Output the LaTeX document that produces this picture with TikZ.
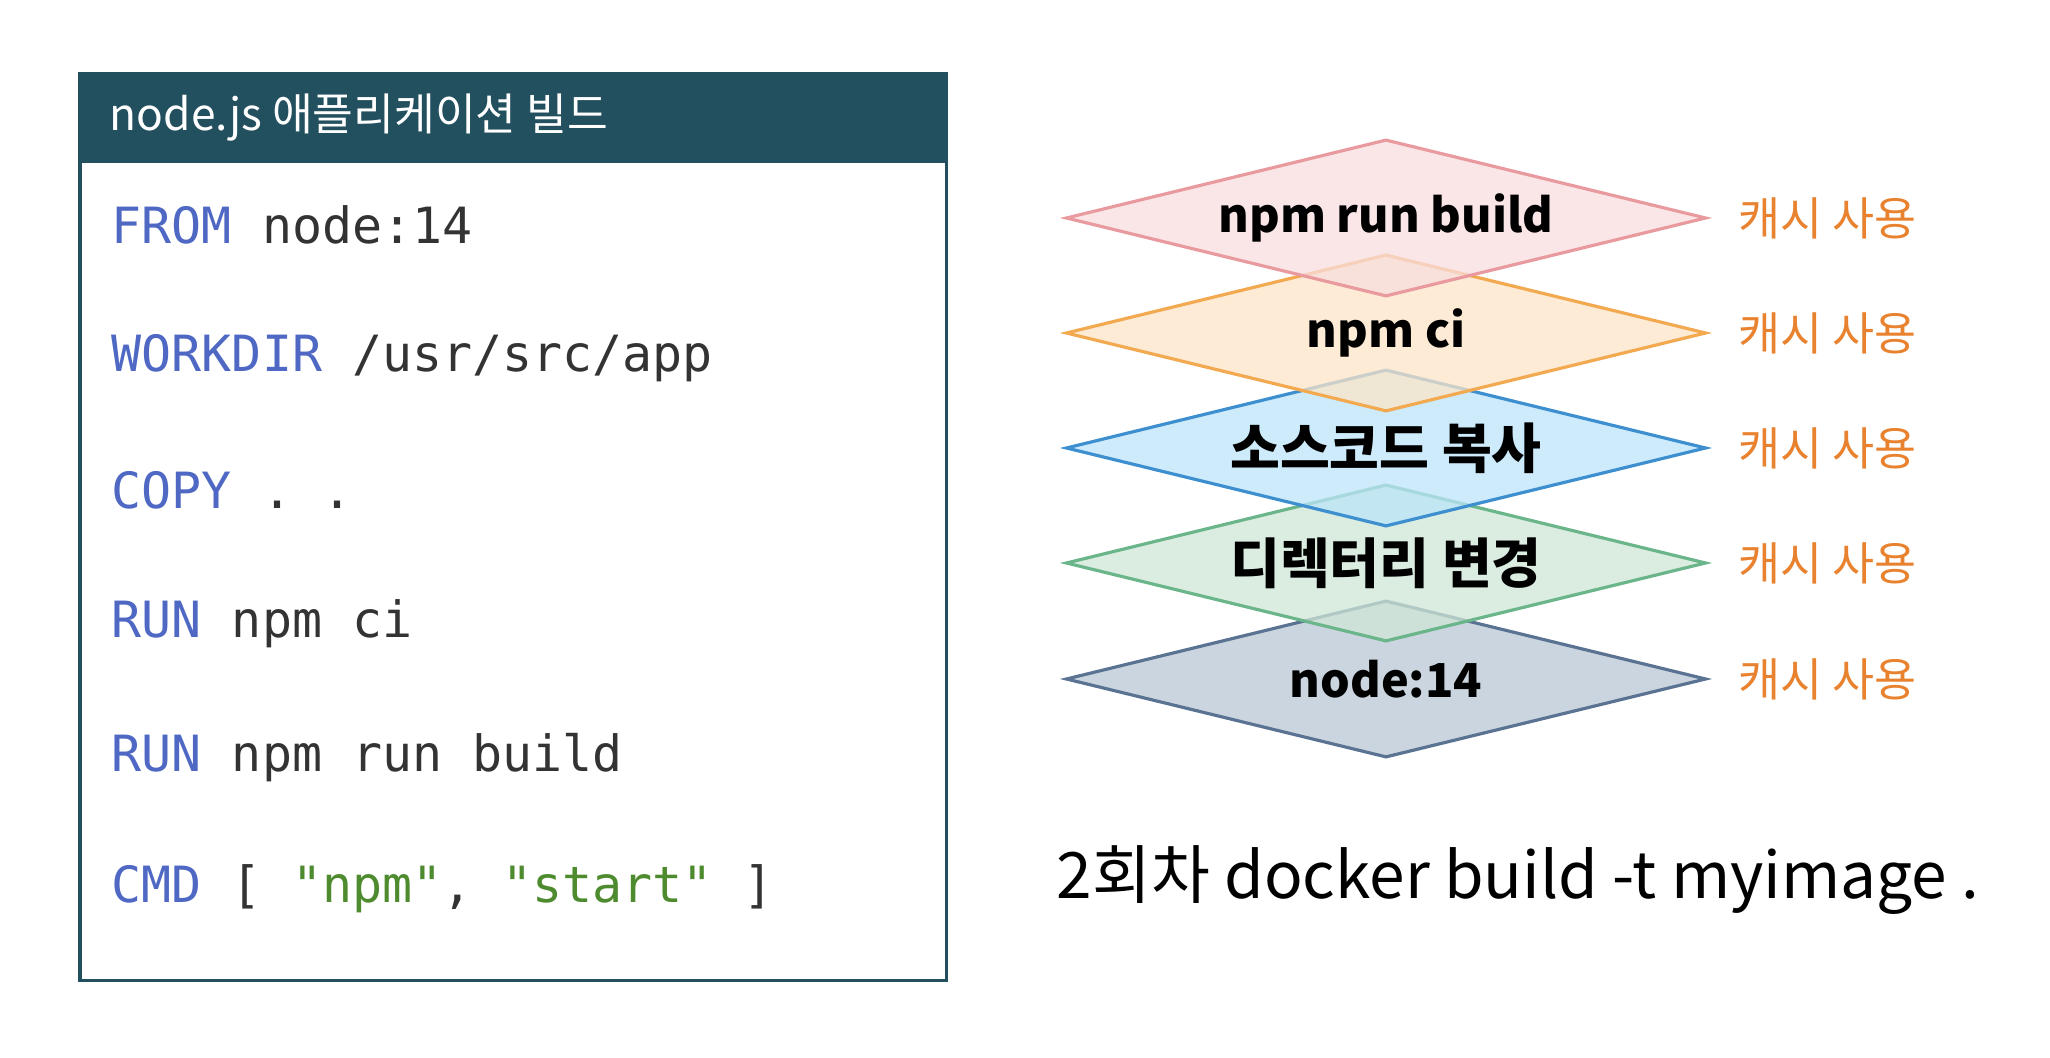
\documentclass[tikz,border=0pt]{standalone}
\usepackage{fontspec}
\setmainfont{Noto Sans CJK KR}
\setmonofont{DejaVu Sans Mono}
\usepackage{xcolor}
\usetikzlibrary{shapes.geometric,positioning}

\definecolor{headteal}{HTML}{22505F}
\definecolor{kwblue}{HTML}{4F68C3}
\definecolor{strgreen}{HTML}{4E8B2F}
\definecolor{codegray}{HTML}{333333}
\definecolor{hitorange}{HTML}{E8822F}
\definecolor{pinkline}{HTML}{E99A9E}
\definecolor{pinkfill}{RGB}{248,222,222}
\definecolor{orangeline}{HTML}{F2A950}
\definecolor{orangefill}{RGB}{252,228,199}
\definecolor{blueline}{HTML}{3D8FCF}
\definecolor{bluefill}{RGB}{188,228,250}
\definecolor{greenline}{HTML}{6BB58A}
\definecolor{greenfill}{RGB}{207,230,214}
\definecolor{slateline}{HTML}{5B7392}
\definecolor{slatefill}{RGB}{186,199,212}

\begin{document}
\begin{tikzpicture}[x=0.01cm, y=-0.01cm,
    codeline/.style={anchor=west, inner sep=0pt, text=codegray,
        font=\ttfamily\fontsize{14.2}{17}\selectfont},
    layer/.style 2 args={diamond, draw=#1, fill=#2, fill opacity=0.75,
        text opacity=1, line width=0.9pt, inner sep=0pt, aspect=4.08,
        minimum width=6.4cm, minimum height=1.57cm,
        font=\bfseries\fontsize{13.3}{16}\selectfont},
    hangul/.style={font=\bfseries\fontsize{15.4}{18}\selectfont},
    cache/.style={anchor=west, inner sep=0pt, text=hitorange,
        font=\fontsize{13}{15}\selectfont}]
\useasboundingbox (0,0) rectangle (2050,1058);

% Dockerfile panel
\node[draw=headteal, line width=1pt, anchor=north west, inner sep=0pt,
      minimum width=8.66cm, minimum height=9.06cm] (panel) at (78,72) {};
\node[fill=headteal, anchor=north west, inner sep=0pt,
      minimum width=8.66cm, minimum height=0.9cm] (panelhead) at (panel.north west) {};
\node[anchor=west, inner sep=0pt, text=white, font=\fontsize{12.6}{15}\selectfont]
      (title) at (109,118) {node.js 애플리케이션 빌드};

\node[codeline] (from) at (111,225) {\textcolor{kwblue}{FROM} node:14};
\node[codeline] (workdir) at (111,358) {\textcolor{kwblue}{WORKDIR} /usr/src/app};
\node[codeline] (copy) at (111,490) {\textcolor{kwblue}{COPY} . .};
\node[codeline] (runci) at (111,624) {\textcolor{kwblue}{RUN} npm ci};
\node[codeline] (runbuild) at (111,758) {\textcolor{kwblue}{RUN} npm run build};
\node[codeline] (cmd) at (111,889) {\textcolor{kwblue}{CMD} [ \textcolor{strgreen}{"npm"}, \textcolor{strgreen}{"start"} ]};

% image layers, bottom one first
\node[layer={slateline}{slatefill}] (base) at (1386,679) {node:14};
\node[layer={greenline}{greenfill}, hangul] (chdir) at (1386,563) {디렉터리 변경};
\node[layer={blueline}{bluefill}, hangul] (srccopy) at (1386,448) {소스코드 복사};
\node[layer={orangeline}{orangefill}] (npmci) at (1386,333) {npm ci};
\node[layer={pinkline}{pinkfill}] (npmbuild) at (1386,218) {npm run build};

\node[cache, right=0.3cm of npmbuild.east] (hit5) {캐시 사용};
\node[cache, right=0.3cm of npmci.east] (hit4) {캐시 사용};
\node[cache, right=0.3cm of srccopy.east] (hit3) {캐시 사용};
\node[cache, right=0.3cm of chdir.east] (hit2) {캐시 사용};
\node[cache, right=0.3cm of base.east] (hit1) {캐시 사용};

\node[anchor=west, inner sep=0pt, font=\fontsize{18.2}{21}\selectfont]
      (buildcmd) at (1056,880) {2회차 docker build -t myimage .};
\end{tikzpicture}
\end{document}
